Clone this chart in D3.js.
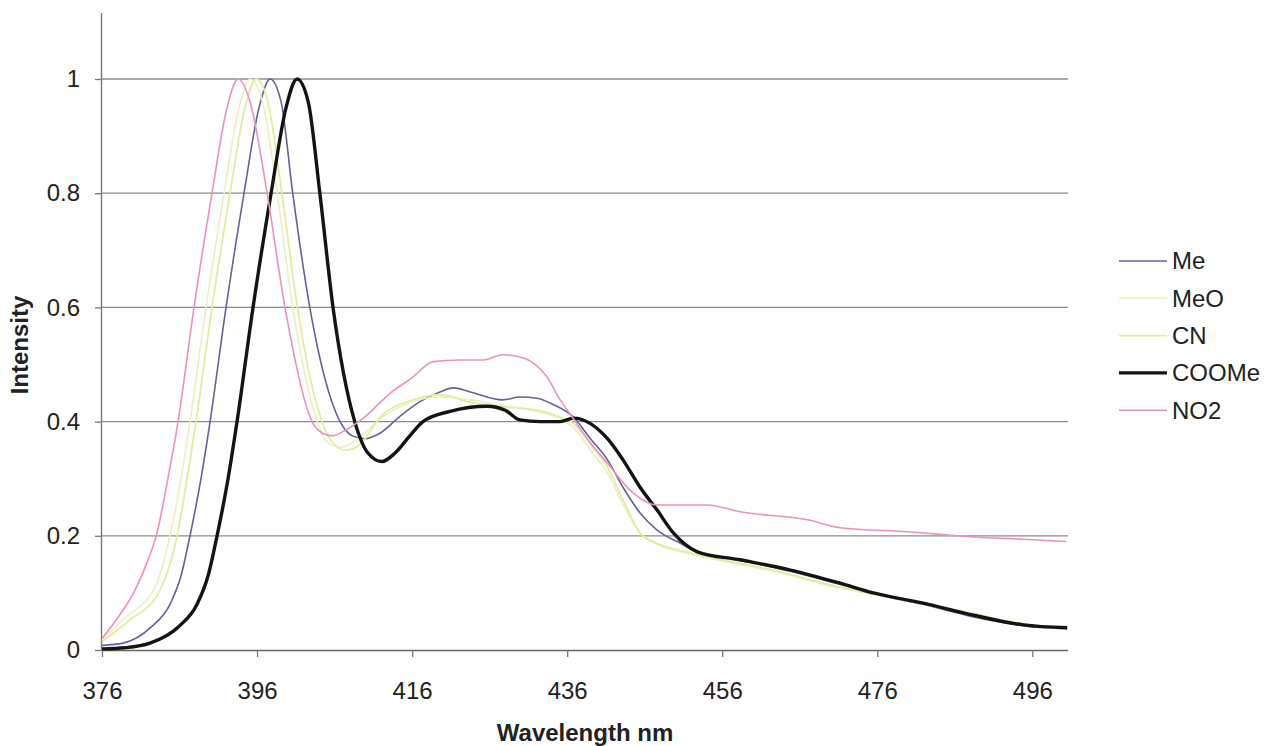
<!DOCTYPE html>
<html><head><meta charset="utf-8">
<script src="https://cdn.jsdelivr.net/npm/d3@7"></script>
<style>body{margin:0;background:#fff;}svg{display:block;font-family:"Liberation Sans",Arial,sans-serif;}</style>
</head><body>
<svg id="c" width="1268" height="746"></svg>
<script>
const seriesNames = ["Me","MeO","CN","COOMe","NO2"];
const xTicks = [376,396,416,436,456,476,496];
const yTicks = [0,0.2,0.4,0.6,0.8,1];
const yTickLabels = ["0","0.2","0.4","0.6","0.8","1"];

const meX = [376,378.71,382.32,384.77,386.19,387.35,388.77,389.94,392.0,394.32,396.26,397.68,399.1,400.6,402.8,406.7,408.3,409.9,411.9,414.5,417.0,419.6,421.3,423.5,427.7,429.9,432.1,434.2,436.8,439.0,441.2,443.2,445.4,447.6,450.6,452.8,458.3,464.8,471.2,475.5,481.9,488.4,494.8,500.5];
const meY = [0.008,0.012,0.04,0.08,0.13,0.2,0.3,0.4,0.6,0.8,0.95,1.0,0.96,0.8,0.6,0.4,0.375,0.37,0.38,0.41,0.435,0.452,0.459,0.452,0.438,0.443,0.441,0.43,0.408,0.37,0.333,0.285,0.24,0.21,0.187,0.172,0.157,0.138,0.115,0.099,0.08,0.058,0.043,0.037];

const meoX = [376,378.84,382.84,384.77,386.19,387.35,389.42,391.74,393.68,395.1,396.7,398.6,400.6,403.3,405.0,406.8,409.0,411.9,416.1,419.6,423.5,427.7,432.1,435.1,436.8,439.0,441.2,443.2,445.4,447.6,451.9,462.6,471.2,479.9,488.4,494.8,500.4];
const meoY = [0.018,0.055,0.11,0.2,0.3,0.4,0.6,0.8,0.95,1.0,0.96,0.8,0.6,0.42,0.365,0.355,0.37,0.405,0.435,0.443,0.438,0.428,0.418,0.405,0.39,0.35,0.31,0.255,0.205,0.185,0.168,0.138,0.108,0.086,0.062,0.045,0.036];

const cnX = [376,379.35,383.48,385.68,386.97,388.13,390.19,392.52,394.45,395.87,397.4,399.2,401.2,403.9,405.4,407.4,409.3,411.9,416.1,419.6,423.5,427.7,432.1,435.1,436.8,439.0,441.2,443.2,445.4,447.6,451.9,462.6,471.2,479.9,488.4,494.8,500.4];
const cnY = [0.015,0.05,0.105,0.2,0.3,0.4,0.6,0.8,0.95,1.0,0.96,0.8,0.6,0.42,0.37,0.35,0.36,0.408,0.438,0.447,0.434,0.426,0.42,0.408,0.397,0.36,0.32,0.263,0.205,0.187,0.17,0.14,0.11,0.088,0.064,0.046,0.037];

const cooX = [376,378.97,382.19,385.81,388.26,389.68,390.84,392.26,393.42,395.48,397.81,399.74,401.16,402.6,404.1,405.8,408.6,410.3,412.1,413.8,415.7,417.4,420.9,425.7,428.0,429.9,432.5,435.1,436.8,441.2,443.2,445.4,447.6,449.7,452.8,458.3,464.8,471.2,475.5,481.9,488.4,494.8,500.5];
const cooY = [0.002,0.004,0.012,0.04,0.08,0.13,0.2,0.3,0.4,0.6,0.8,0.95,1.0,0.96,0.8,0.6,0.4,0.345,0.33,0.345,0.375,0.40,0.418,0.427,0.42,0.403,0.40,0.40,0.406,0.37,0.333,0.285,0.245,0.205,0.172,0.158,0.14,0.117,0.10,0.082,0.061,0.044,0.039];

const no2X = [376,377.68,380.26,382.0,383.0,384.5,385.81,387.87,390.19,392.13,393.55,395.1,397.3,399.6,403.1,404.4,405.7,407.4,409.7,413.2,416.1,418.7,422.2,425.2,427.7,429.9,431.6,433.4,435.1,436.8,438.6,441.2,444.1,447.6,454.1,458.3,467.0,471.2,479.9,488.4,494.8,500.4];
const no2Y = [0.02,0.05,0.105,0.16,0.2,0.3,0.4,0.6,0.8,0.95,1.0,0.96,0.8,0.6,0.4,0.38,0.375,0.385,0.406,0.45,0.478,0.505,0.508,0.508,0.517,0.513,0.503,0.478,0.438,0.405,0.37,0.327,0.28,0.254,0.254,0.242,0.228,0.214,0.207,0.198,0.194,0.19];

const seriesX = [meX, meoX, cnX, cooX, no2X];
const seriesY = [meY, meoY, cnY, cooY, no2Y];
const colors = ["#62629e","#efedc4","#e2eda2","#141414","#e992c2"];
const widths = [1.6,1.6,1.8,3.4,1.6];

const L=102, R=1068, B=650, T=13;
const x = d3.scaleLinear().domain([376,500.6]).range([L,R]);
const y = d3.scaleLinear().domain([0,1]).range([B,79]);
const font = "Liberation Sans, Arial, sans-serif";

const svg = d3.select("#c");
svg.append("rect").attr("width",1268).attr("height",746).attr("fill","#fff");

svg.append("g").selectAll("line").data(yTicks.filter(d=>d>0)).join("line")
  .attr("x1",L).attr("x2",R).attr("y1",d=>y(d)).attr("y2",d=>y(d))
  .attr("stroke","#8c8c8c").attr("stroke-width",1.3);

const ya = svg.append("g").attr("transform",`translate(${L},0)`)
  .call(d3.axisLeft(y).tickValues(yTicks).tickFormat((d,i)=>yTickLabels[i]).tickSize(7).tickPadding(15));
ya.select(".domain").attr("d",`M-0.5,${T}V${B}`).attr("stroke","#777").attr("stroke-width",1.4);
ya.selectAll(".tick line").attr("stroke","#777").attr("stroke-width",1.3);
ya.selectAll("text").attr("font-size",24).attr("fill","#222").attr("font-family",font);

const xa = svg.append("g").attr("transform",`translate(0,${B})`)
  .call(d3.axisBottom(x).tickValues(xTicks).tickFormat(d3.format("d")).tickSize(7).tickPadding(25));
xa.select(".domain").attr("d",`M${L},0.5H${R}`).attr("stroke","#666").attr("stroke-width",1.6);
xa.selectAll(".tick line").attr("stroke","#777").attr("stroke-width",1.3);
xa.selectAll("text").attr("font-size",24).attr("fill","#222").attr("font-family",font);

const line = d3.line().x(d=>x(d[0])).y(d=>y(d[1])).curve(d3.curveMonotoneX);
seriesNames.forEach((n,i)=>{
  const pts = seriesX[i].map((v,j)=>[v, seriesY[i][j]]);
  svg.append("path").datum(pts).attr("d",line).attr("fill","none")
    .attr("stroke",colors[i]).attr("stroke-width",widths[i]).attr("stroke-linejoin","round");
});

svg.append("text").attr("x",585).attr("y",741).attr("text-anchor","middle")
  .attr("font-size",24).attr("font-weight","bold").attr("fill","#222").text("Wavelength nm");
svg.append("text").attr("transform","translate(20,345) rotate(-90)").attr("text-anchor","middle").attr("dy","0.35em")
  .attr("font-size",24).attr("font-weight","bold").attr("fill","#222").text("Intensity");

const lg = svg.append("g");
seriesNames.forEach((n,i)=>{
  const yy = 261 + i*37.3;
  lg.append("line").attr("x1",1119).attr("x2",1167).attr("y1",yy).attr("y2",yy)
    .attr("stroke",colors[i]).attr("stroke-width",widths[i]);
  lg.append("text").attr("x",1172).attr("y",yy).attr("dy","0.35em")
    .attr("font-size",24).attr("fill","#222").text(n);
});
</script>
</body></html>
